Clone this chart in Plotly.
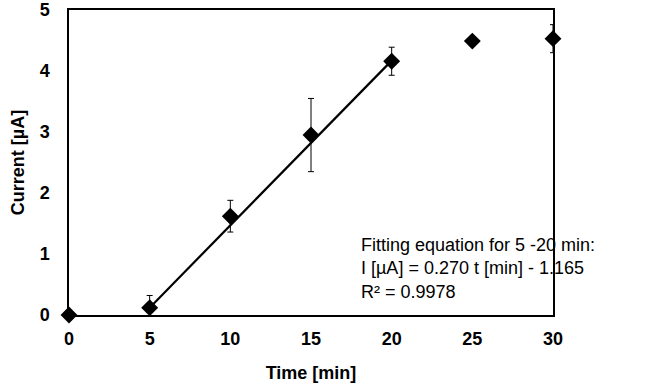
import plotly.graph_objects as go

time_min = [0, 5, 10, 15, 20, 25, 30]
current_uA = [0.0, 0.12, 1.62, 2.95, 4.16, 4.49, 4.53]
error_uA = [0.0, 0.2, 0.26, 0.6, 0.23, 0.06, 0.23]
fit_x = [5, 20]
fit_y = [0.12, 4.17]
x_ticks = [0, 5, 10, 15, 20, 25, 30]
y_ticks = [0, 1, 2, 3, 4, 5]
eq_text = "Fitting equation for 5 -20 min:<br>I [µA] = 0.270 t [min] - 1.165<br>R² = 0.9978"

fig = go.Figure()
fig.add_trace(go.Scatter(x=fit_x, y=fit_y, mode="lines",
                         line=dict(color="black", width=2.2), showlegend=False))
fig.add_trace(go.Scatter(x=time_min, y=current_uA, mode="markers",
                         marker=dict(symbol="diamond", size=13, color="black"),
                         error_y=dict(type="data", array=error_uA, color="black",
                                      thickness=1, width=3),
                         showlegend=False, cliponaxis=False))

L, R, T, B = 69, 92, 10, 69
pw, ph = 645 - L - R, 384 - T - B
fig.add_annotation(x=(359 - 69) / pw, y=(315 - 233) / ph, xref="paper", yref="paper",
                   text=eq_text, showarrow=False, xanchor="left", yanchor="top",
                   align="left",
                   font=dict(family="Liberation Sans, Arial", size=18, color="black"))

axis_font = dict(family="Liberation Sans, Arial", size=18, color="black", weight="bold")
fig.update_xaxes(range=[0, 30], tickvals=x_ticks, showgrid=False, zeroline=False,
                 showline=True, linecolor="black", linewidth=1.5, mirror=True,
                 ticks="", tickfont=axis_font, automargin=False, ticklabelstandoff=7,
                 title=dict(text="Time [min]", font=axis_font, standoff=18))
fig.update_yaxes(range=[0, 5], tickvals=y_ticks, showgrid=False, zeroline=False,
                 showline=True, linecolor="black", linewidth=1.5, mirror=True,
                 ticks="", tickfont=axis_font, automargin=False, ticklabelstandoff=14,
                 title=dict(text="Current [µA]", font=axis_font, standoff=10))
fig.update_layout(width=645, height=384, margin=dict(l=L, r=R, t=T, b=B),
                  plot_bgcolor="white", paper_bgcolor="white",
                  font=dict(family="Liberation Sans, Arial", color="black"))
fig.write_html("out.html", post_script="document.body.style.margin='0';",
               config={"displayModeBar": False})
